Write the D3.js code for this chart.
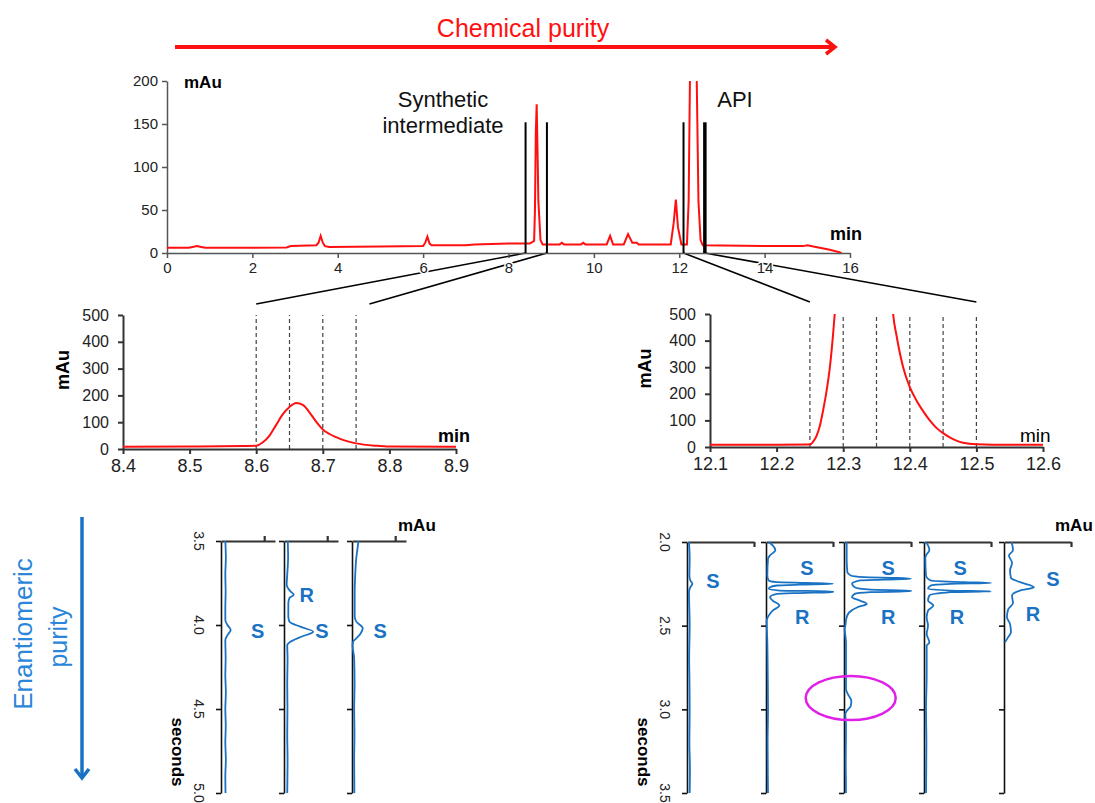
<!DOCTYPE html>
<html><head><meta charset="utf-8">
<script src="https://cdn.jsdelivr.net/npm/d3@7"></script>
<style>
body{margin:0;background:#fff;}
text{font-family:"Liberation Sans", Arial, Helvetica, sans-serif;}
</style>
</head><body>
<script>
// ---------------- DATA ----------------
// Top chromatogram (time in min, signal in mAu)
const topTicksX = [0, 2, 4, 6, 8, 10, 12, 14, 16];
const topTicksY = [0, 50, 100, 150, 200];
const topTrace = [
  [0,6],[0.5,6],[0.6,7],[0.7,8],[0.8,7],[0.9,6],[1.5,6],[2.8,6.5],[2.9,8],[3.5,9],
  [3.55,12],[3.6,20],[3.65,12],[3.7,8],[3.8,7],[5.0,7.5],[6.0,8],[6.05,12],[6.1,19],
  [6.15,11],[6.2,9],[7.0,9],[7.2,10],[8.0,11],[8.5,11],[8.6,14],[8.62,50],[8.64,140],
  [8.66,173],[8.68,120],[8.7,60],[8.75,15],[8.8,10],[9.2,10],[9.25,12],[9.3,10],
  [9.7,10],[9.75,12],[9.8,10],[10.3,10],[10.38,20],[10.45,10],[10.7,10],[10.8,22],
  [10.9,12],[11.0,12],[11.05,10],[11.8,10],[11.87,35],[11.92,62],[11.97,30],[12.05,10],
  [12.18,10],[12.22,60],[12.25,200],[12.27,600],[12.38,600],[12.41,200],[12.45,60],
  [12.5,15],[12.55,9],[14.0,8],[14.9,8],[15.0,9],[15.2,7],[15.5,4],[15.75,1],[15.8,0]
];
const windowMarkers = [8.4, 8.9, 12.1, 12.6];

// Zoomed chromatograms
const zoomLTicksX = [8.4, 8.5, 8.6, 8.7, 8.8, 8.9];
const zoomRTicksX = [12.1, 12.2, 12.3, 12.4, 12.5, 12.6];
const zoomTicksY = [0, 100, 200, 300, 400, 500];
const zoomLTrace = [
  [8.4,8],[8.5,9],[8.58,11],[8.6,12],[8.61,25],[8.62,50],[8.63,90],[8.64,130],[8.65,157],
  [8.66,172],[8.67,165],[8.68,137],[8.69,102],[8.7,73],[8.71,56],[8.72,44],[8.73,34],
  [8.75,21],[8.78,12],[8.8,9],[8.9,8]
];
const zoomRTrace = [
  [12.1,8],[12.2,8],[12.25,9],[12.255,20],[12.26,42],[12.265,80],[12.27,140],[12.275,210],
  [12.28,300],[12.285,430],[12.29,600],[12.3,1200],[12.36,1200],[12.37,700],[12.375,500],
  [12.38,420],[12.39,300],[12.4,225],[12.41,175],[12.42,135],[12.43,100],[12.44,72],
  [12.45,52],[12.46,36],[12.47,24],[12.48,16],[12.5,10],[12.55,8],[12.6,8]
];
const zoomLFractions = [8.6, 8.65, 8.7, 8.75];
const zoomRFractions = [12.25, 12.3, 12.35, 12.4, 12.45, 12.5];

// Chiral (enantiomeric) traces: [time in s, signal in mAu]
const enantLTicks = [3.5, 4.0, 4.5, 5.0];
const enantRTicks = [2.0, 2.5, 3.0, 3.5];
const enantLTraces = [
  [[3.5,4],[3.6,4.5],[3.7,4],[3.8,4.3],[3.9,4],[3.97,4],[4.0,6],[4.03,9],[4.06,6],[4.09,4],
   [4.2,4.3],[4.3,4],[4.4,4.5],[4.5,4],[4.6,4.4],[4.7,4],[4.8,4.5],[4.9,4],[5.0,4.2]],
  [[3.5,3.5],[3.6,3.8],[3.7,3],[3.76,2.5],[3.8,6],[3.82,9],[3.84,5],[3.87,4],[3.95,4],
   [3.98,5],[4.01,15],[4.04,27],[4.07,16],[4.1,6],[4.12,3],[4.2,3.3],[4.35,3],[4.5,3.2],
   [4.65,3],[4.8,3.3],[5.0,3]],
  [[3.5,6],[3.55,5],[3.6,4],[3.7,3],[3.8,2.5],[3.95,2.5],[3.98,4],[4.02,10],[4.05,8],
   [4.08,4],[4.1,1],[4.12,0.5],[4.2,2],[4.35,2.4],[4.5,2],[4.65,2.3],[4.8,2],[5.0,2.2]]
];
const enantRTraces = [
  [[2.0,1.5],[2.1,2],[2.2,1.8],[2.23,2.5],[2.25,4],[2.27,2.5],[2.3,1.5],[2.5,2],
   [2.7,1.6],[2.8,1.8],[3.0,2],[3.2,1.8],[3.35,2.2],[3.5,2]],
  [[2.0,2],[2.02,5],[2.05,7],[2.08,3],[2.1,1.5],[2.2,1],[2.23,2],[2.24,8],[2.245,30],
   [2.25,80],[2.255,25],[2.26,8],[2.27,3],[2.28,2],[2.29,10],[2.295,60],[2.3,80],
   [2.305,25],[2.31,8],[2.33,3],[2.35,5],[2.38,10],[2.41,5],[2.44,2],[2.47,0.5],
   [2.6,1],[2.8,1.3],[3.0,1.5],[3.2,1.2],[3.5,1.5]],
  [[2.0,2],[2.1,2],[2.18,2.5],[2.2,5],[2.21,15],[2.215,40],[2.22,80],[2.225,30],[2.23,12],
   [2.25,6],[2.27,8],[2.285,20],[2.29,60],[2.295,80],[2.3,20],[2.31,8],[2.33,6],[2.35,12],
   [2.37,17],[2.39,10],[2.42,4],[2.45,2],[2.5,1],[2.52,0.5],[2.6,1.5],[2.88,1.5],
   [2.91,3],[2.95,5.5],[2.98,5],[3.01,2],[3.03,1],[3.1,1.5],[3.3,1.3],[3.5,1.5]],
  [[2.0,1],[2.02,3],[2.05,4],[2.08,1.5],[2.1,1],[2.2,1.5],[2.23,5],[2.24,30],[2.245,80],
   [2.25,20],[2.26,5],[2.28,3],[2.29,20],[2.295,80],[2.3,20],[2.32,4],[2.35,3],[2.38,7],
   [2.41,3],[2.45,2],[2.5,3],[2.55,2],[2.6,4],[2.62,2],[2.8,2],[3.0,1.5],[3.2,1.8],[3.5,1.5]],
  [[2.0,5.7],[2.05,6.7],[2.08,3.7],[2.125,6],[2.17,4.5],[2.215,5.2],[2.24,12],[2.27,22.4],
   [2.29,12],[2.32,6],[2.365,6.7],[2.405,3],[2.45,2.2],[2.49,4.5],[2.54,5.2],[2.57,3],[2.6,0.7]]
];
const enantLLabels = [
  {p:0, txt:"S", t:4.036, v:34}, {p:1, txt:"R", t:3.82, v:21},
  {p:1, txt:"S", t:4.036, v:35}, {p:2, txt:"S", t:4.036, v:26}
];
const enantRLabels = [
  {p:0, txt:"S", t:2.233, v:19.4},
  {p:1, txt:"S", t:2.155, v:30.6}, {p:1, txt:"R", t:2.448, v:27},
  {p:2, txt:"S", t:2.155, v:33},   {p:2, txt:"R", t:2.448, v:33},
  {p:3, txt:"S", t:2.155, v:27},   {p:3, txt:"R", t:2.448, v:24.6},
  {p:4, txt:"S", t:2.22, v:36.6},  {p:4, txt:"R", t:2.43, v:21.6}
];
const circledPeak = {p:2, t:2.932, v:5};

// ---------------- DRAWING ----------------
const W = 1095, H = 803;
const RED = "#ff1010", BLUE = "#1a72c4";
const svg = d3.select("body").append("svg").attr("width", W).attr("height", H);
const defs = svg.append("defs");

function styleAxis(g, color, width, fs) {
  g.selectAll("path").attr("stroke", color).attr("stroke-width", width);
  g.selectAll("line").attr("stroke", color).attr("stroke-width", width);
  g.selectAll("text").attr("fill", "#222").style("font-size", fs + "px")
    .style("font-family", '"Liberation Sans", Arial, sans-serif');
}

// --- Chemical purity arrow
svg.append("text").attr("x", 523).attr("y", 37).attr("text-anchor", "middle")
  .attr("fill", RED).style("font-size", "25px").text("Chemical purity");
svg.append("line").attr("x1", 175).attr("x2", 834).attr("y1", 47).attr("y2", 47)
  .attr("stroke", RED).attr("stroke-width", 4);
svg.append("path").attr("d", "M826,40 L835,47 L826,54").attr("fill", "none")
  .attr("stroke", RED).attr("stroke-width", 3.5);

// --- Top chromatogram
const xTop = d3.scaleLinear().domain([0, 16]).range([167, 850]);
const yTop = d3.scaleLinear().domain([0, 200]).range([253, 81]);

// scales of the zoom panels (needed for connectors)
const xZL = d3.scaleLinear().domain([8.4, 8.9]).range([123, 456]);
const yZL = d3.scaleLinear().domain([0, 500]).range([449, 315]);
const xZR = d3.scaleLinear().domain([12.1, 12.6]).range([710, 1043]);
const yZR = d3.scaleLinear().domain([0, 500]).range([447, 314]);

// connectors
const connectors = [
  {from: 8.4, to: 8.6, sx: xZL, y: yZL(500) - 11},
  {from: 8.9, to: 8.77, sx: xZL, y: yZL(500) - 11},
  {from: 12.1, to: 12.25, sx: xZR, y: yZR(500) - 12},
  {from: 12.6, to: 12.5, sx: xZR, y: yZR(500) - 12}
];
svg.append("g").selectAll("line").data(connectors).join("line")
  .attr("x1", d => xTop(d.from)).attr("y1", yTop(0))
  .attr("x2", d => d.sx(d.to)).attr("y2", d => d.y)
  .attr("stroke", "#000").attr("stroke-width", 1.6);

const gTopX = svg.append("g").attr("transform", `translate(0,${yTop(0)})`)
  .call(d3.axisBottom(xTop).tickValues(topTicksX).tickSize(5).tickSizeOuter(0).tickPadding(4));
styleAxis(gTopX, "#555", 1.5, 15);
gTopX.selectAll("text").attr("stroke", "#fff").attr("stroke-width", 3).attr("paint-order", "stroke");
const gTopY = svg.append("g").attr("transform", `translate(${xTop(0)},0)`)
  .call(d3.axisLeft(yTop).tickValues(topTicksY).tickSize(5).tickSizeOuter(0).tickPadding(4));
styleAxis(gTopY, "#555", 1.5, 15);

defs.append("clipPath").attr("id", "clipTop").append("rect")
  .attr("x", xTop(0)).attr("y", yTop(200)).attr("width", xTop(16) - xTop(0)).attr("height", yTop(0) - yTop(200));
svg.append("path").datum(topTrace).attr("clip-path", "url(#clipTop)")
  .attr("fill", "none").attr("stroke", RED).attr("stroke-width", 2)
  .attr("d", d3.line().x(d => xTop(d[0])).y(d => yTop(d[1])));

svg.append("g").selectAll("line").data(windowMarkers).join("line")
  .attr("x1", d => xTop(d)).attr("x2", d => xTop(d))
  .attr("y1", yTop(0)).attr("y2", yTop(152))
  .attr("stroke", "#000").attr("stroke-width", (d, i) => i === 3 ? 3.5 : 2);

svg.append("text").attr("x", 184).attr("y", 88).style("font-size", "17px").style("font-weight", "bold").text("mAu");
svg.append("text").attr("x", 830).attr("y", 240).style("font-size", "18px").style("font-weight", "bold").text("min");
svg.append("text").attr("x", 443).attr("y", 107).attr("text-anchor", "middle").style("font-size", "22px").attr("fill", "#111").text("Synthetic");
svg.append("text").attr("x", 443).attr("y", 133).attr("text-anchor", "middle").style("font-size", "22px").attr("fill", "#111").text("intermediate");
svg.append("text").attr("x", 735).attr("y", 107).attr("text-anchor", "middle").style("font-size", "22px").attr("fill", "#111").text("API");

// --- Zoom panels
function zoomPanel(xs, ys, ticksX, trace, fractions, id, minBold, mAuX, minX) {
  svg.append("g").selectAll("line").data(fractions).join("line")
    .attr("x1", d => xs(d)).attr("x2", d => xs(d))
    .attr("y1", ys(0)).attr("y2", ys(500))
    .attr("stroke", "#444").attr("stroke-width", 1.2).attr("stroke-dasharray", "4,3");
  const gx = svg.append("g").attr("transform", `translate(0,${ys(0)})`)
    .call(d3.axisBottom(xs).tickValues(ticksX).tickSize(5).tickSizeOuter(0).tickPadding(5).tickFormat(d3.format(".1f")));
  styleAxis(gx, "#333", 2, 18);
  const gy = svg.append("g").attr("transform", `translate(${xs.range()[0]},0)`)
    .call(d3.axisLeft(ys).tickValues(zoomTicksY).tickSize(5).tickSizeOuter(0).tickPadding(9));
  styleAxis(gy, "#333", 2, 16);
  defs.append("clipPath").attr("id", id).append("rect")
    .attr("x", xs.range()[0]).attr("y", ys(500)).attr("width", xs.range()[1] - xs.range()[0]).attr("height", ys(0) - ys(500));
  svg.append("path").datum(trace).attr("clip-path", `url(#${id})`)
    .attr("fill", "none").attr("stroke", RED).attr("stroke-width", 2)
    .attr("d", d3.line().curve(d3.curveMonotoneX).x(d => xs(d[0])).y(d => ys(d[1])));
  svg.append("text").attr("transform", `translate(${mAuX},${(ys(0) + ys(500)) / 2 - 12}) rotate(-90)`)
    .attr("text-anchor", "middle").attr("dy", "0.35em")
    .style("font-size", "18px").style("font-weight", "bold").text("mAu");
  svg.append("text").attr("x", minX).attr("y", 442).style("font-size", minBold ? "18px" : "19px")
    .style("font-weight", minBold ? "bold" : "normal").text("min");
}
zoomPanel(xZL, yZL, zoomLTicksX, zoomLTrace, zoomLFractions, "clipZL", true, 63, 438);
zoomPanel(xZR, yZR, zoomRTicksX, zoomRTrace, zoomRFractions, "clipZR", false, 645, 1020);

// --- Enantiomeric panels
function enantGroup(axesX, width, ys, ticks, traces, labels, upTick, mAuX) {
  const xs = axesX.map(ax => d3.scaleLinear().domain([0, 50]).range([ax, ax + width]).clamp(true));
  xs.forEach((x, i) => {
    const gy = svg.append("g").attr("transform", `translate(${axesX[i]},0)`)
      .call(d3.axisLeft(ys).tickValues(ticks).tickSize(5).tickSizeOuter(0).tickFormat(""));
    styleAxis(gy, "#111", 1.6, 12);
    const top = ys.range()[0];
    const gx = svg.append("g").attr("transform", `translate(0,${top})`)
      .call((upTick ? d3.axisTop(x).tickValues([40]) : d3.axisBottom(x).tickValues([50]))
        .tickSize(5).tickSizeOuter(0).tickFormat(""));
    styleAxis(gx, "#333", 2.2, 12);
    svg.append("path").datum(traces[i]).attr("fill", "none").attr("stroke", BLUE).attr("stroke-width", 1.8)
      .attr("d", d3.line().curve(d3.curveMonotoneY).x(d => x(d[1])).y(d => ys(d[0])));
  });
  // rotated tick labels
  svg.append("g").selectAll("text").data(ticks).join("text")
    .attr("transform", d => `translate(${axesX[0] - 22},${ys(d)}) rotate(90)`)
    .attr("text-anchor", "middle").attr("dy", "0.35em").attr("fill", "#222")
    .style("font-size", "14px").text(d => d3.format(".1f")(d));
  svg.append("text").attr("transform", `translate(${axesX[0] - 43},${ys.range()[1] - 41}) rotate(90)`)
    .attr("text-anchor", "middle").attr("dy", "0.35em")
    .style("font-size", "17px").style("font-weight", "bold").text("seconds");
  svg.append("text").attr("x", mAuX).attr("y", 531).style("font-size", "17px").style("font-weight", "bold").text("mAu");
  svg.append("g").selectAll("text").data(labels).join("text")
    .attr("x", d => xs[d.p](d.v)).attr("y", d => ys(d.t)).attr("dy", "0.36em")
    .attr("text-anchor", "middle").attr("fill", BLUE)
    .style("font-size", "20px").style("font-weight", "bold").text(d => d.txt);
  return xs;
}
const yBL = d3.scaleLinear().domain([3.5, 5.0]).range([541, 793]);
const yBR = d3.scaleLinear().domain([2.0, 3.5]).range([542, 793]);
enantGroup([221, 284, 352], 54, yBL, enantLTicks, enantLTraces, enantLLabels, true, 398);
const xsR = enantGroup([687, 766, 844, 924, 1004], 67, yBR, enantRTicks, enantRTraces, enantRLabels, false, 1055);

svg.append("ellipse").attr("cx", xsR[circledPeak.p](circledPeak.v)).attr("cy", yBR(circledPeak.t))
  .attr("rx", 45).attr("ry", 22).attr("fill", "none").attr("stroke", "#e020e8").attr("stroke-width", 2.5);

// --- Enantiomeric purity arrow
svg.append("text").attr("transform", "translate(23,634) rotate(-90)").attr("text-anchor", "middle")
  .attr("dy", "0.35em").attr("fill", "#2a86d8").style("font-size", "26px").text("Enantiomeric");
svg.append("text").attr("transform", "translate(58,637) rotate(-90)").attr("text-anchor", "middle")
  .attr("dy", "0.35em").attr("fill", "#2a86d8").style("font-size", "25px").text("purity");
svg.append("line").attr("x1", 82).attr("x2", 82).attr("y1", 517).attr("y2", 777)
  .attr("stroke", BLUE).attr("stroke-width", 3.5);
svg.append("path").attr("d", "M75,769 L82,778 L89,769").attr("fill", "none")
  .attr("stroke", BLUE).attr("stroke-width", 3.5);
</script>
</body></html>
